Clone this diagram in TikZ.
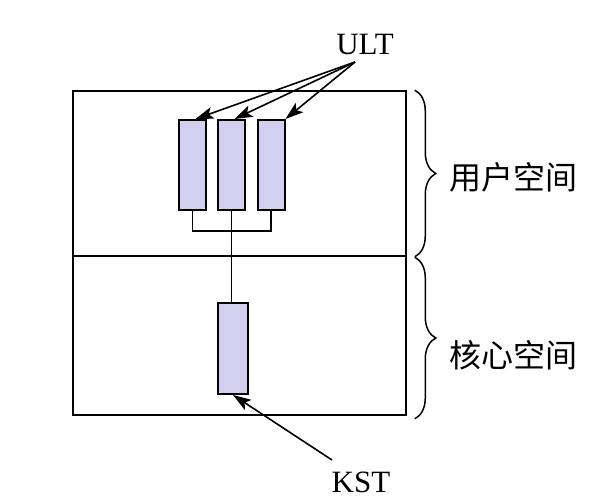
\documentclass[tikz,border=0pt]{standalone}
\usepackage{fontspec}
\setmainfont{Liberation Serif}
\newfontfamily\cjk{Noto Sans CJK SC}
\usetikzlibrary{arrows.meta,decorations.pathreplacing,calc}
\definecolor{threadfill}{RGB}{210,208,238}
\tikzset{
  frame/.style={draw=black, line width=1.6pt, minimum width=333pt, inner sep=0pt},
  thread/.style={draw=black, line width=2pt, fill=threadfill, minimum width=27pt, minimum height=90pt, inner sep=0pt},
  link/.style={line width=1.6pt},
  pointer/.style={line width=1.6pt, -{Stealth[length=18pt,width=12pt,inset=4pt]}},
  spacebrace/.style={line width=1.5pt, decorate, decoration={brace, amplitude=21pt}},
  serifLabel/.style={font=\fontsize{31}{34}\selectfont, inner sep=0pt},
  spaceLabel/.style={font=\cjk\fontsize{32}{34}\selectfont, inner sep=0pt, anchor=west}
}
\begin{document}
\begin{tikzpicture}[x=1pt,y=-1pt]
  \useasboundingbox (0,0) rectangle (594,503);
  % user and kernel regions
  \node[frame, minimum height=165pt] (user) at (239.5,173.5) {};
  \node[frame, minimum height=159pt] (kernel) at (239.5,335.5) {};
  % user-level threads
  \node[thread] (t1) at (192.5,165) {};
  \node[thread] (t2) at (231.5,165) {};
  \node[thread] (t3) at (271,165) {};
  % kernel-supported thread
  \node[thread, minimum width=30pt, minimum height=91pt] (k) at (233,348.5) {};
  % wiring between the thread boxes
  \coordinate (bus) at (0,231);
  \draw[link] (t1.south) -- (t1.south |- bus) -- (t3.south |- bus) -- (t3.south);
  \draw[link] (t2.south) -- (t2.south |- k.north);
  % labels and pointers
  \node[serifLabel] (ult) at (365,45) {ULT};
  \coordinate (ultfoot) at (355,62);
  \draw[pointer] (ultfoot) -- ($(t1.north)+(3,0)$);
  \draw[pointer] (ultfoot) -- ($(t2.north)+(3,0)$);
  \draw[pointer] (ultfoot) -- (t3.north east);
  \node[serifLabel] (kst) at (361,482) {KST};
  \coordinate (kstfoot) at (332,460);
  \draw[pointer] (kstfoot) -- (k.south);
  % braces and space names
  \draw[spacebrace] ($(user.north east)+(8,0)$) -- ($(user.south east)+(8,0)$);
  \draw[spacebrace] ($(kernel.north east)+(8,2)$) -- ($(kernel.south east)+(8,3)$);
  \node[spaceLabel] (us) at (449,177) {用户空间};
  \node[spaceLabel] (ks) at (449,355) {核心空间};
\end{tikzpicture}
\end{document}
